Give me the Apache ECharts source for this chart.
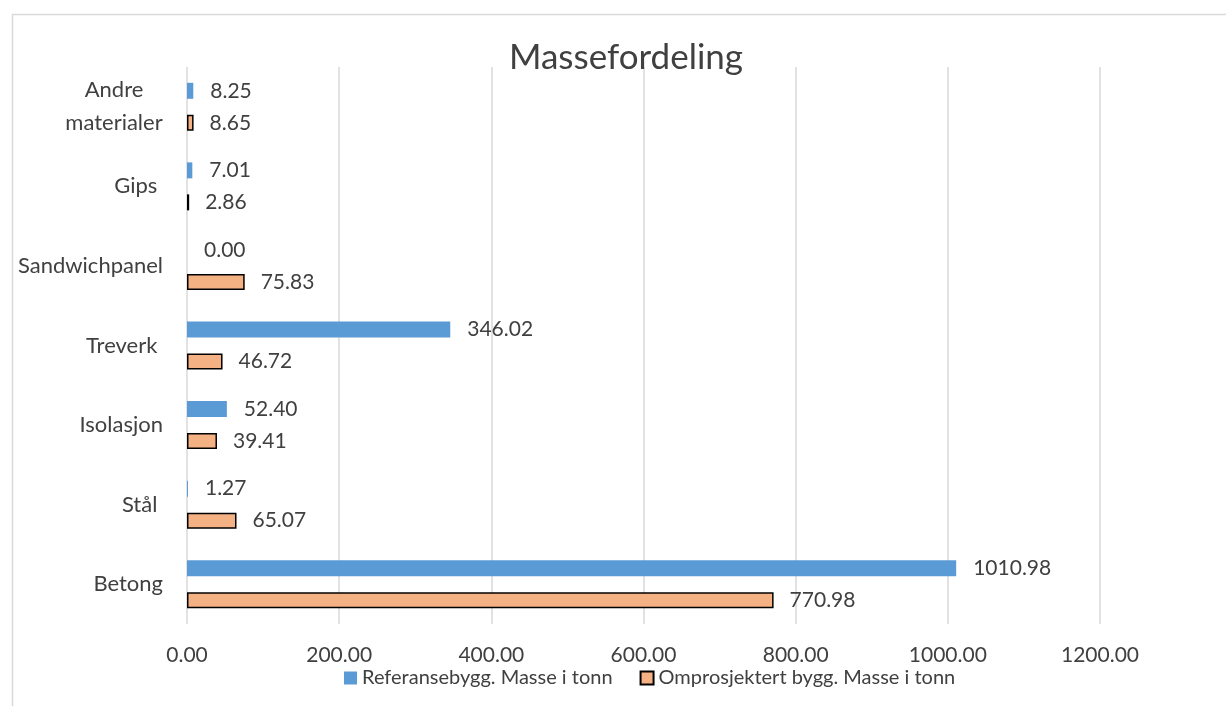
<!DOCTYPE html>
<html>
<head>
<meta charset="utf-8">
<script src="https://cdn.jsdelivr.net/npm/echarts@6/dist/echarts.min.js"></script>
<style>
html,body{margin:0;padding:0;background:#fff;}
#chart{width:1226px;height:706px;}
</style>
</head>
<body>
<div id="chart"></div>
<script>
const categories = ['Betong', 'Stål ', 'Isolasjon', 'Treverk ', 'Sandwichpanel', 'Gips ', 'Andre\nmaterialer'];
const seriesNames = ['Referansebygg. Masse i tonn', 'Omprosjektert bygg. Masse i tonn'];
const referanse = [1010.98, 1.27, 52.40, 346.02, 0.00, 7.01, 8.25];
const omprosjektert = [770.98, 65.07, 39.41, 46.72, 75.83, 2.86, 8.65];
const xTicks = [0, 200, 400, 600, 800, 1000, 1200];

const chart = echarts.init(document.getElementById('chart'), null, {renderer: 'canvas'});
const FONT = 'Lato, Carlito, "Liberation Sans", sans-serif';
const TXT = '#404040';
const CAT_SIZE = 22;

function textWidth(s, size) {
  const c = document.createElement('canvas').getContext('2d');
  c.font = size + 'px ' + FONT;
  return c.measureText(s).width;
}

const option = {
  backgroundColor: '#ffffff',
  animation: false,
  textStyle: {fontFamily: FONT},
  graphic: [{
    type: 'rect', left: 10, top: 12, silent: true,
    shape: {width: 1400, height: 900},
    style: {fill: 'none', stroke: '#D9D9D9', lineWidth: 1.5}
  }],
  title: {
    text: 'Massefordeling',
    left: 621, top: 35, textAlign: 'center',
    textStyle: {fontFamily: FONT, fontSize: 35, fontWeight: 'normal', color: TXT}
  },
  legend: {
    data: seriesNames,
    left: 339, top: 663,
    icon: 'rect', itemWidth: 13, itemHeight: 13, itemGap: 27,
    textStyle: {fontFamily: FONT, fontSize: 20, color: TXT}
  },
  grid: {left: 187, right: 126, top: 67, bottom: 82, containLabel: false},
  xAxis: {
    type: 'value', min: xTicks[0], max: xTicks[xTicks.length - 1], interval: 200,
    axisLine: {show: false}, axisTick: {show: false},
    splitLine: {show: true, lineStyle: {color: '#D9D9D9', width: 1.5}},
    axisLabel: {
      margin: 21, fontFamily: FONT, fontSize: 21, color: TXT,
      formatter: v => v.toFixed(2)
    }
  },
  yAxis: {
    type: 'category', data: categories,
    axisLine: {show: false}, axisTick: {show: false},
    axisLabel: {
      margin: 24, fontFamily: FONT, fontSize: CAT_SIZE, color: TXT, lineHeight: 33,
      formatter: function (v) {
        if (v.indexOf('\n') >= 0) {
          return v.split('\n').map(s => '{c|' + s + '}').join('\n');
        }
        return v;
      },
      rich: {c: {width: Math.ceil(textWidth('materialer', CAT_SIZE)), align: 'center',
        fontFamily: FONT, fontSize: CAT_SIZE, color: TXT, lineHeight: 33}}
    }
  },
  series: [
    {
      name: seriesNames[0], type: 'bar', data: referanse,
      barWidth: 16, barGap: '100%',
      itemStyle: {color: '#5B9BD5'},
      label: {show: true, position: 'right', distance: 17, fontFamily: FONT, fontSize: 21, color: TXT,
        formatter: p => p.value.toFixed(2)}
    },
    {
      name: seriesNames[1], type: 'bar', data: omprosjektert,
      barWidth: 16, barGap: '100%',
      itemStyle: {color: '#F4B183', borderColor: '#000000', borderWidth: 1.5},
      label: {show: true, position: 'right', distance: 16, fontFamily: FONT, fontSize: 21, color: TXT,
        formatter: p => p.value.toFixed(2)}
    }
  ]
};
chart.setOption(option);
</script>
</body>
</html>
